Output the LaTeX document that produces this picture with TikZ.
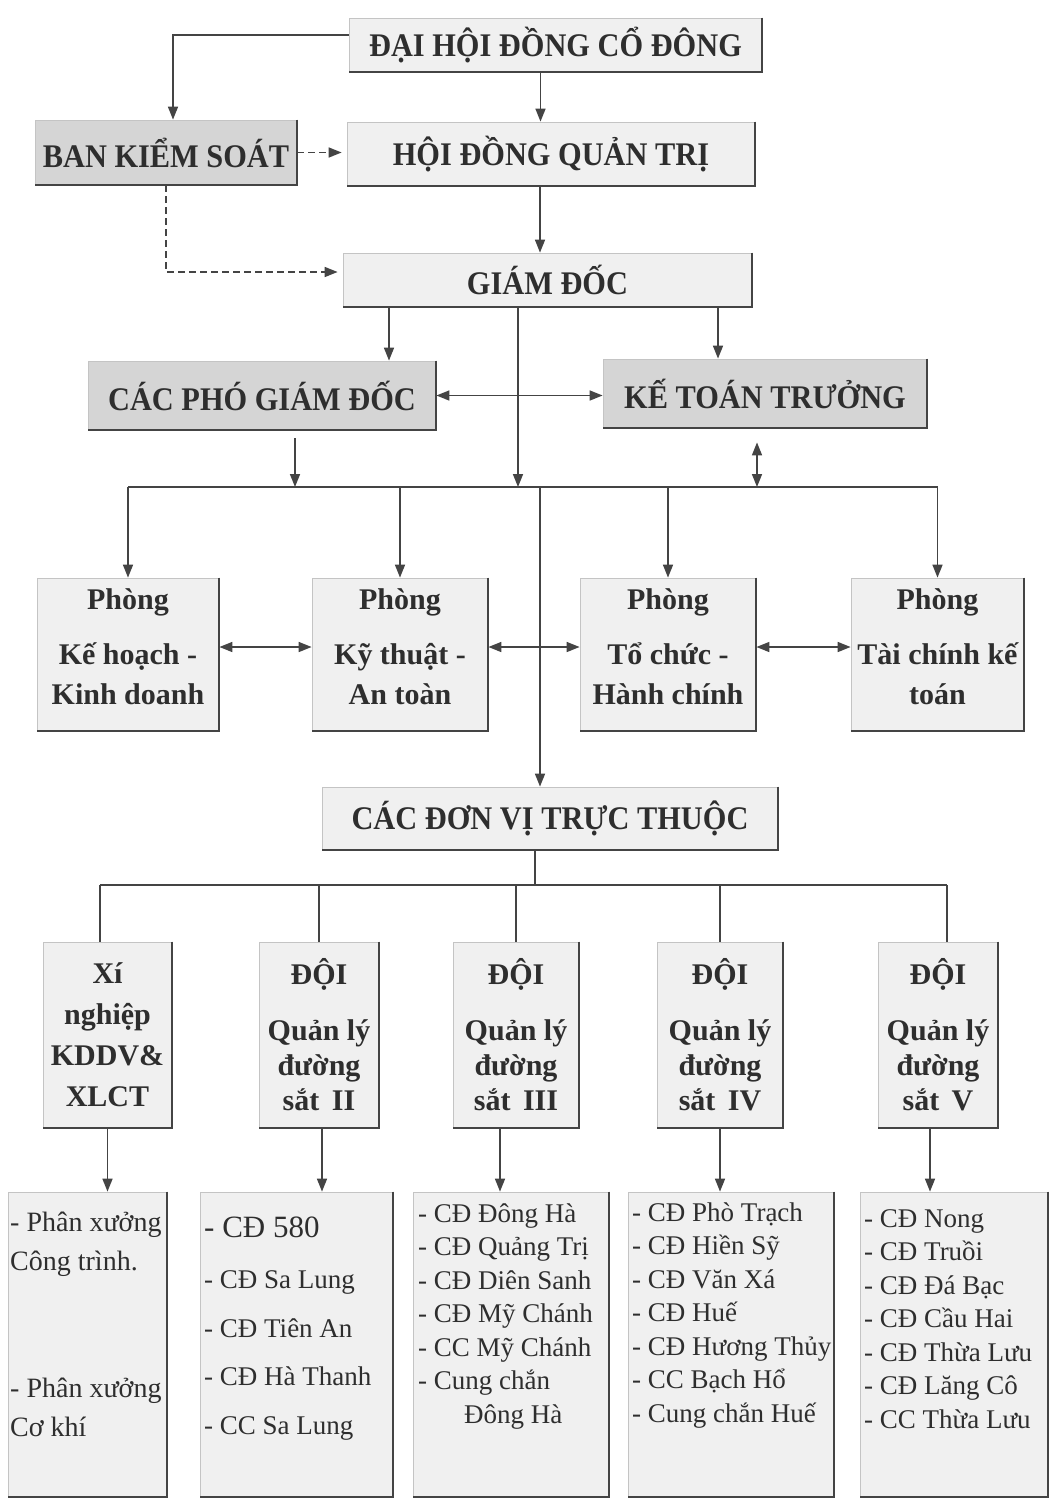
\documentclass[tikz,border=0pt]{standalone}
\usepackage{fontspec}
\setmainfont{Liberation Serif}
\newfontfamily\tallbf[FakeStretch=0.92]{Liberation Serif}
\usetikzlibrary{arrows.meta,calc}
\definecolor{ink}{HTML}{2E2E2E}
\definecolor{boxfill}{HTML}{F0F0F0}
\definecolor{darkfill}{HTML}{D5D5D5}
\definecolor{edgecol}{HTML}{C4C4C4}
\definecolor{shade}{HTML}{444444}
\begin{document}
\begin{tikzpicture}[x=1pt,y=-1pt,
  box/.style={draw=edgecol, line width=0.8pt, fill=boxfill, inner sep=0pt, text=ink, align=center,
    font=\tallbf\bfseries\fontsize{33}{38}\selectfont},
  hbox/.style={box, fill=darkfill},
  pbox/.style={box, minimum width=#1, minimum height=153pt, font=\bfseries\fontsize{30}{40}\selectfont},
  dbox/.style={box, minimum width=#1, minimum height=186pt, font=\bfseries\fontsize{30}{35}\selectfont},
  lbox/.style={box, minimum width=#1, minimum height=305pt},
  lst/.style={anchor=north west, inner sep=0pt, align=left, text=ink, font=\fontsize{27}{33.5}\selectfont},
  ln/.style={draw=shade, line width=1.6pt},
  arr/.style={ln, -{Triangle[length=13pt,width=10pt]}},
  darr/.style={ln, {Triangle[length=13pt,width=10pt]}-{Triangle[length=13pt,width=10pt]}},
  dsh/.style={arr, dash pattern=on 7pt off 4pt},
  sh/.style={draw=shade, line width=2pt}]
\useasboundingbox (0,0) rectangle (1052,1499);
\fill[white] (0,0) rectangle (1052,1499);

% top levels
\node[box, minimum width=413pt, minimum height=54pt] (dh) at (555.5,45) {ĐẠI HỘI ĐỒNG CỔ ĐÔNG};
\node[hbox, minimum width=262pt, minimum height=65pt] (bks) at (166,152.5) {BAN KIỂM SOÁT};
\node[box, minimum width=408pt, minimum height=64pt] (hdqt) at (551,154) {HỘI ĐỒNG QUẢN TRỊ};
\node[box, minimum width=409pt, minimum height=54pt] (gd) at (547.5,280) {GIÁM ĐỐC};
\node[hbox, minimum width=348pt, minimum height=69pt] (cpgd) at (262,395.5) {CÁC PHÓ GIÁM ĐỐC};
\node[hbox, minimum width=324pt, minimum height=69pt] (ktt) at (765,393.5) {KẾ TOÁN TRƯỞNG};

% phong
\node[pbox=182pt] (p1) at (128,654.5) {Phòng\\[15pt]Kế hoạch -\\Kinh doanh\rule[-15pt]{0pt}{15pt}};
\node[pbox=176pt] (p2) at (400,654.5) {Phòng\\[15pt]Kỹ thuật -\\An toàn\rule[-15pt]{0pt}{15pt}};
\node[pbox=176pt] (p3) at (668,654.5) {Phòng\\[15pt]Tổ chức -\\Hành chính\rule[-15pt]{0pt}{15pt}};
\node[pbox=173pt] (p4) at (937.5,654.5) {Phòng\\[15pt]Tài chính kế\\toán\rule[-15pt]{0pt}{15pt}};

\node[box, minimum width=456pt, minimum height=63pt] (dv) at (550,818.5) {CÁC ĐƠN VỊ TRỰC THUỘC};

% doi
\node[dbox=129pt, font=\bfseries\fontsize{30}{41}\selectfont] (d1) at (107.5,1035) {Xí\\nghiệp\\KDDV\&\\XLCT};
\node[dbox=120pt] (d2) at (319,1035) {ĐỘI\\[21pt]Quản lý\\đường\\sắt\, II};
\node[dbox=126pt] (d3) at (516,1035) {ĐỘI\\[21pt]Quản lý\\đường\\sắt\, III};
\node[dbox=126pt] (d4) at (720,1035) {ĐỘI\\[21pt]Quản lý\\đường\\sắt\, IV};
\node[dbox=120pt] (d5) at (938,1035) {ĐỘI\\[21pt]Quản lý\\đường\\sắt\, V};

% bottom boxes
\node[lbox=159pt] (b1) at (87.5,1344.5) {};
\node[lbox=193pt] (b2) at (296.5,1344.5) {};
\node[lbox=196pt] (b3) at (511,1344.5) {};
\node[lbox=206pt] (b4) at (731,1344.5) {};
\node[lbox=188pt] (b5) at (954,1344.5) {};

\node[lst, font=\fontsize{28}{39}\selectfont] (t1) at (10,1204) {\rule{0pt}{27pt}- Phân xưởng\\Công trình.\\[88pt]- Phân xưởng\\Cơ khí};
\node[lst, font=\fontsize{27}{48.5}\selectfont] (t2) at (204,1207) {\rule{0pt}{30pt}{\fontsize{31}{48.5}\selectfont - CĐ 580}\\[3pt]- CĐ Sa Lung\\- CĐ Tiên An\\- CĐ Hà Thanh\\- CC Sa Lung};
\node[lst] (t3) at (418,1195) {\rule{0pt}{27pt}- CĐ Đông Hà\\- CĐ Quảng Trị\\- CĐ Diên Sanh\\- CĐ Mỹ Chánh\\- CC Mỹ Chánh\\- Cung chắn\\\hspace*{46pt}Đông Hà};
\node[lst] (t4) at (632,1194) {\rule{0pt}{27pt}- CĐ Phò Trạch\\- CĐ Hiền Sỹ\\- CĐ Văn Xá\\- CĐ Huế\\- CĐ Hương Thủy\\- CC Bạch Hổ\\- Cung chắn Huế};
\node[lst] (t5) at (864,1200) {\rule{0pt}{27pt}- CĐ Nong\\- CĐ Truồi\\- CĐ Đá Bạc\\- CĐ Cầu Hai\\- CĐ Thừa Lưu\\- CĐ Lăng Cô\\- CC Thừa Lưu};

% shadow edges
\foreach \n in {dh,bks,hdqt,gd,cpgd,ktt,p1,p2,p3,p4,dv,d1,d2,d3,d4,d5,b1,b2,b3,b4,b5}
  \draw[sh] (\n.north east) -- (\n.south east) -- (\n.south west);

% connectors top
\draw[arr] ([yshift=10pt]dh.west) -| ([xshift=7pt]bks.north);
\draw[arr] ([xshift=-15pt]dh.south) -- ([xshift=-15pt]dh.south |- hdqt.north);
\draw[dsh, shorten >=5pt] (bks.east) -- (bks.east -| hdqt.west);
\draw[dsh, shorten >=5pt] (bks.south) |- ([yshift=8pt]gd.west);
\draw[arr] ([xshift=-11pt]hdqt.south) -- ([xshift=-11pt]hdqt.south |- gd.north);

\coordinate (busL) at (128,487);
\coordinate (busR) at (937.5,487);
\draw[ln] (busL) -- (busR);
\draw[arr] ([xshift=-158.5pt]gd.south) -- ([xshift=-158.5pt]gd.south |- cpgd.north);
\draw[arr] ([xshift=170.5pt]gd.south) -- ([xshift=170.5pt]gd.south |- ktt.north);
\draw[arr] ([xshift=-29.5pt]gd.south) -- ([xshift=-29.5pt]gd.south |- busL);
\draw[darr] (cpgd.east) -- (cpgd.east -| ktt.west);
\draw[arr] ([xshift=33pt,yshift=-8pt]cpgd.south) -- ([xshift=33pt]cpgd.south |- busL);
\draw[darr] ([xshift=-8pt,yshift=-14pt]ktt.south) -- ([xshift=-8pt]ktt.south |- busL);

\foreach \p in {p1,p2,p3,p4}
  \draw[arr] (\p.north |- busL) -- (\p.north);
\draw[arr] ([xshift=-10pt]dv.north |- busL) -- ([xshift=-10pt]dv.north);
\draw[darr] ([yshift=7.5pt]p1.east) -- ([yshift=7.5pt]p2.west);
\draw[darr] ([yshift=7.5pt]p2.east) -- ([yshift=7.5pt]p3.west);
\draw[darr] ([yshift=7.5pt]p3.east) -- ([yshift=7.5pt]p4.west);

% lower tree
\coordinate (bus2L) at (100,885);
\coordinate (bus2R) at (947,885);
\draw[ln] ([xshift=-15pt]dv.south) -- ([xshift=-15pt]dv.south |- bus2L);
\draw[ln] (bus2L) -- (bus2R);
\draw[ln] (bus2L) -- (bus2L |- d1.north);
\draw[ln] (d2.north |- bus2L) -- (d2.north);
\draw[ln] (d3.north |- bus2L) -- (d3.north);
\draw[ln] (d4.north |- bus2L) -- (d4.north);
\draw[ln] (bus2R) -- (bus2R |- d5.north);

\draw[arr] (d1.south) -- (d1.south |- b1.north);
\draw[arr] ([xshift=3pt]d2.south) -- ([xshift=3pt]d2.south |- b2.north);
\draw[arr] ([xshift=-16pt]d3.south) -- ([xshift=-16pt]d3.south |- b3.north);
\draw[arr] (d4.south) -- (d4.south |- b4.north);
\draw[arr] ([xshift=-8pt]d5.south) -- ([xshift=-8pt]d5.south |- b5.north);
\end{tikzpicture}
\end{document}
